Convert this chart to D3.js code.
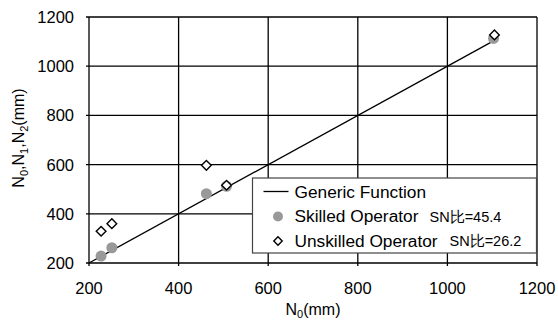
<!DOCTYPE html>
<html>
<head>
<meta charset="utf-8">
<script src="https://cdn.jsdelivr.net/npm/d3@7"></script>
<style>
  body { margin: 0; background: #fff; }
  text { font-family: "Liberation Sans", Arial, sans-serif; fill: #000; }
</style>
</head>
<body>
<svg width="558" height="321"></svg>
<script>
const margin = {top: 17, right: 21, bottom: 58, left: 89},
    width = 558 - margin.left - margin.right,
    height = 321 - margin.top - margin.bottom;

const xTicks = [200, 400, 600, 800, 1000, 1200];
const yTicks = [200, 400, 600, 800, 1000, 1200];

// generic function: y = x
const genericX = [200, 1105];

const skilledX = [227, 251, 462, 507, 1103];
const skilledY = [228, 262, 482, 512, 1113];

const unskilledX = [227, 251, 462, 507, 1105];
const unskilledY = [329, 360, 597, 516, 1127];

const x = d3.scaleLinear().domain([200, 1200]).range([0, width]);
const y = d3.scaleLinear().domain([200, 1200]).range([height, 0]);

const svg = d3.select("svg")
  .append("g")
    .attr("transform", `translate(${margin.left},${margin.top})`);

// grid
svg.selectAll(".gx")
  .data(xTicks)
  .enter().append("line")
    .attr("x1", d => x(d)).attr("x2", d => x(d))
    .attr("y1", 0).attr("y2", height + 3)
    .attr("stroke", "#000").attr("stroke-width", 1.3);

svg.selectAll(".gy")
  .data(yTicks)
  .enter().append("line")
    .attr("x1", -3).attr("x2", width)
    .attr("y1", d => y(d)).attr("y2", d => y(d))
    .attr("stroke", "#000").attr("stroke-width", 1.3);

// tick labels
svg.selectAll(".tx")
  .data(xTicks)
  .enter().append("text")
    .attr("x", d => x(d))
    .attr("y", height + 31)
    .attr("text-anchor", "middle")
    .style("font-size", "16.5px")
    .text(d => d);

svg.selectAll(".ty")
  .data(yTicks)
  .enter().append("text")
    .attr("x", -15)
    .attr("y", d => y(d) + 6)
    .attr("text-anchor", "end")
    .style("font-size", "16.5px")
    .text(d => d);

// generic function line
const line = d3.line().x(d => x(d)).y(d => y(d));
svg.append("path")
    .datum(genericX)
    .attr("d", line)
    .attr("fill", "none")
    .attr("stroke", "#000")
    .attr("stroke-width", 1.3);

// skilled points
svg.selectAll(".sk")
  .data(skilledX)
  .enter().append("circle")
    .attr("cx", d => x(d))
    .attr("cy", (d, i) => y(skilledY[i]))
    .attr("r", 5.5)
    .attr("fill", "#999");

// unskilled diamonds
const diamond = d3.symbol().type(d3.symbolDiamond2).size(60);
svg.selectAll(".us")
  .data(unskilledX)
  .enter().append("path")
    .attr("d", diamond)
    .attr("transform", (d, i) => `translate(${x(d)},${y(unskilledY[i])})`)
    .attr("fill", "#fff")
    .attr("stroke", "#000")
    .attr("stroke-width", 1.4);

// legend
const legend = svg.append("g").attr("transform", `translate(${252.5 - margin.left},${178 - margin.top})`);
legend.append("rect")
    .attr("width", 284).attr("height", 75)
    .attr("fill", "#fff")
    .attr("stroke", "#444")
    .attr("stroke-width", 1.2);

legend.append("line")
    .attr("x1", 11).attr("x2", 36)
    .attr("y1", 13.5).attr("y2", 13.5)
    .attr("stroke", "#000").attr("stroke-width", 1.3);
legend.append("circle")
    .attr("cx", 25.5).attr("cy", 38.5).attr("r", 5)
    .attr("fill", "#999");
legend.append("path")
    .attr("d", d3.symbol().type(d3.symbolDiamond2).size(45))
    .attr("transform", "translate(25.5,63)")
    .attr("fill", "#fff").attr("stroke", "#000").attr("stroke-width", 1.4);

const legendLabels = ["Generic Function", "Skilled Operator", "Unskilled Operator"];
legend.selectAll(".lt")
  .data(legendLabels)
  .enter().append("text")
    .attr("x", 42)
    .attr("y", (d, i) => 19.5 + i * 24.5)
    .style("font-size", "17.3px")
    .text(d => d);

const snLabels = [["SN比=45.4", 177], ["SN比=26.2", 197]];
legend.selectAll(".sn")
  .data(snLabels)
  .enter().append("text")
    .attr("x", d => d[1])
    .attr("y", (d, i) => 43.5 + i * 24.5)
    .style("font-size", "14.5px")
    .text(d => d[0]);

// axis titles
const xt = svg.append("text")
    .attr("x", width / 2)
    .attr("y", height + 52)
    .attr("text-anchor", "middle")
    .style("font-size", "16px");
xt.append("tspan").text("N");
xt.append("tspan").attr("dy", 3).style("font-size", "11px").text("0");
xt.append("tspan").attr("dy", -3).text("(mm)");

const yt = svg.append("text")
    .attr("transform", `translate(${24 - margin.left},${138 - margin.top}) rotate(-90)`)
    .attr("text-anchor", "middle")
    .style("font-size", "16px");
yt.append("tspan").text("N");
yt.append("tspan").attr("dy", 4).style("font-size", "11px").text("0");
yt.append("tspan").attr("dy", -4).text(",N");
yt.append("tspan").attr("dy", 4).style("font-size", "11px").text("1");
yt.append("tspan").attr("dy", -4).text(",N");
yt.append("tspan").attr("dy", 4).style("font-size", "11px").text("2");
yt.append("tspan").attr("dy", -4).text("(mm)");
</script>
</body>
</html>
